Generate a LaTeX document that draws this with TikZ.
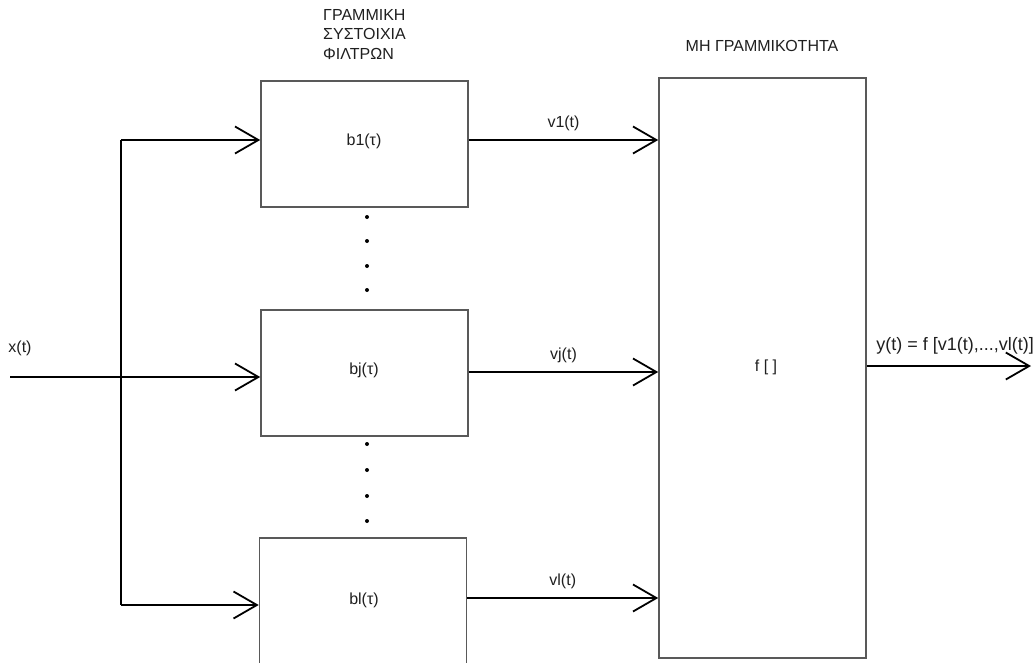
\documentclass[tikz,border=0pt]{standalone}
\usepackage{fontspec}
\setmainfont{Liberation Sans}
\usetikzlibrary{arrows.meta,calc}
\begin{document}
\begin{tikzpicture}[x=1pt,y=-1pt,
  font=\fontsize{16}{19.5}\selectfont,
  every node/.style={text=black!88},
  blk/.style={draw=black!65, line width=1.6pt, minimum width=207pt, inner sep=0pt},
  conn/.style={draw=black, line width=1.8pt, -{Straight Barb[angle=60:27pt, line width=1.8pt]}},
  wire/.style={draw=black, line width=1.8pt},
  dot/.style={circle, fill=black, inner sep=0pt, minimum size=4pt}
]
\useasboundingbox (0,0) rectangle (1036,662);
% blocks
\node[blk, minimum height=126pt] (b1) at (364.5,144) {};
\node[blk, minimum height=126pt] (bj) at (364.5,373) {};
\node[blk, minimum height=126pt] (bl) at (363,601) {};
\node[blk, minimum height=580pt] (f) at (762.5,368) {};
% labels in blocks
\node (tb1) at (364,141) {b1(τ)};
\node (tbj) at (364,370) {bj(τ)};
\node (tbl) at (364,600) {bl(τ)};
\node (tf) at (766,367) {f [ ]};
% titles
\node[align=left, anchor=north west, inner sep=0pt] (title1) at (323,9) {ΓΡΑΜΜΙΚΗ\\ΣΥΣΤΟΙΧΙΑ\\ΦΙΛΤΡΩΝ};
\node (title2) at (762,46) {ΜΗ ΓΡΑΜΜΙΚΟΤΗΤΑ};
% dots
\foreach \yy [count=\i] in {217,241,266,290} {\node[dot] (da\i) at (367,\yy) {};}
\foreach \yy [count=\i] in {444,470,496,521} {\node[dot] (db\i) at (367,\yy) {};}
% input
\coordinate (in) at (10,377);
\coordinate (split) at (121,377);
\node (lx) at (20,348) {x(t)};
\draw[conn] (in) -- (in -| bj.west);
\draw[wire] (split) -- (121,140);
\draw[wire] (split) -- (121,605);
\draw[conn] (121,140) -- (121,140 -| b1.west);
\draw[conn] (121,605) -- (121,605 -| bl.west);
% outputs of filters
\draw[conn] (b1.east |- 0,140) -- (f.west |- 0,140) node[midway, above=5pt] (lv1) {v1(t)};
\draw[conn] (bj.east |- 0,372) -- (f.west |- 0,372) node[midway, above=5pt] (lvj) {vj(t)};
\draw[conn] (bl.east |- 0,598) -- (f.west |- 0,598) node[midway, above=5pt] (lvl) {vl(t)};
% final output
\coordinate (out) at (1031,366);
\draw[conn] (f.east |- out) -- (out);
\node[anchor=east, inner sep=0pt, font=\fontsize{18}{21}\selectfont] (ly) at (1034,346) {y(t) = f [v1(t),...,vl(t)]};
\end{tikzpicture}
\end{document}
